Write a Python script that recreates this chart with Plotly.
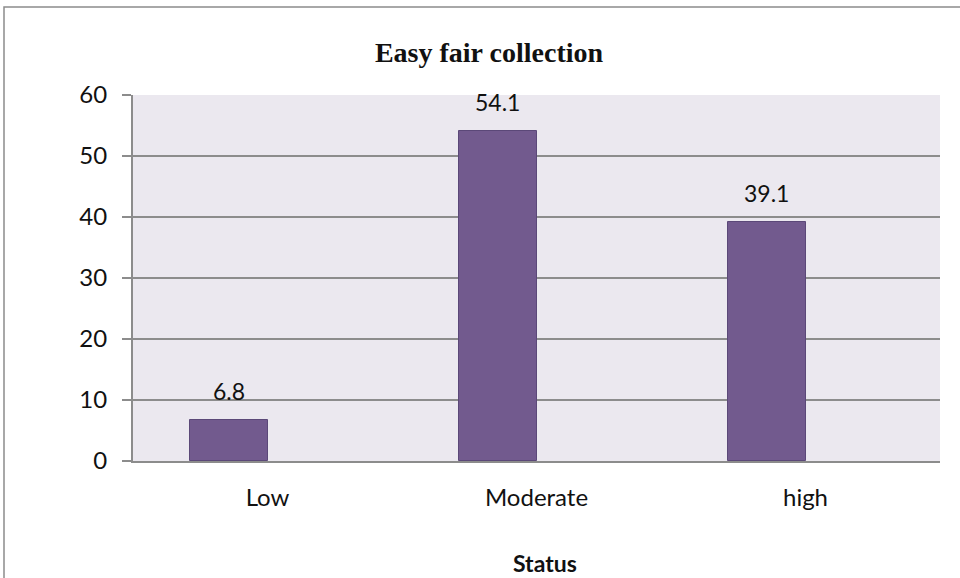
import plotly.graph_objects as go

# Survey results: share of respondents by status level (%)
categories = ["Low", "Moderate", "high"]
values = [6.8, 54.1, 39.1]
y_ticks = [0, 10, 20, 30, 40, 50, 60]

BAR_W = 0.287
positions = list(range(len(categories)))

# plot-area geometry in pixels
L, R, T, B = 133, 20, 95, 117
PW, PH = 960 - L - R, 578 - T - B

fig = go.Figure()
fig.add_trace(go.Bar(
    x=positions,
    y=values,
    width=BAR_W,
    offset=-BAR_W,
    marker=dict(color="#725A8E", line=dict(color="#5B4878", width=1)),
    hoverinfo="x+y",
))

# value labels above each bar
for p, v in zip(positions, values):
    fig.add_annotation(
        x=p - BAR_W / 2, y=v, xref="x", yref="y",
        text=f"{v}", showarrow=False, yanchor="middle", yshift=29,
        font=dict(family="Lato", size=23, color="#111111"),
    )

# axis title
fig.add_annotation(
    x=(545 - L) / PW, y=(T + PH - 563) / PH, xref="paper", yref="paper",
    text="<b>Status</b>", showarrow=False, xanchor="center", yanchor="middle",
    font=dict(family="Lato", size=23, color="#111111"),
)

# outer chart frame
fig.add_shape(
    type="rect", xref="paper", yref="paper",
    x0=(4 - L) / PW, x1=1.1, y0=-0.5, y1=1 + (T - 7) / PH,
    line=dict(color="#8C8C8C", width=1.5), fillcolor="rgba(0,0,0,0)",
    layer="below",
)

fig.update_layout(
    width=960, height=578,
    margin=dict(l=L, r=R, t=T, b=B),
    paper_bgcolor="white",
    plot_bgcolor="#EBE8EF",
    showlegend=False,
    bargap=0,
    title=dict(
        text="<b>Easy fair collection</b>",
        x=489 / 960, xanchor="center", y=1 - 52 / 578, yanchor="middle",
        font=dict(family="Liberation Serif", size=28, color="#111111"),
    ),
    xaxis=dict(
        range=[-0.5, 2.5],
        tickvals=positions, ticktext=categories,
        showgrid=False, zeroline=False,
        showline=True, linecolor="#8C8C8C", linewidth=2,
        ticks="", ticklabelstandoff=14,
        tickfont=dict(family="Lato", size=24, color="#111111"),
        fixedrange=True,
    ),
    yaxis=dict(
        range=[0, 60], tickvals=y_ticks,
        showgrid=True, gridcolor="#8C8C8C", gridwidth=2,
        zeroline=False,
        showline=True, linecolor="#8C8C8C", linewidth=2,
        ticks="outside", ticklen=9, tickcolor="#8C8C8C", tickwidth=2,
        ticklabelstandoff=10,
        tickfont=dict(family="Lato", size=24, color="#111111"),
        fixedrange=True,
    ),
)

fig.write_html("out.html")
